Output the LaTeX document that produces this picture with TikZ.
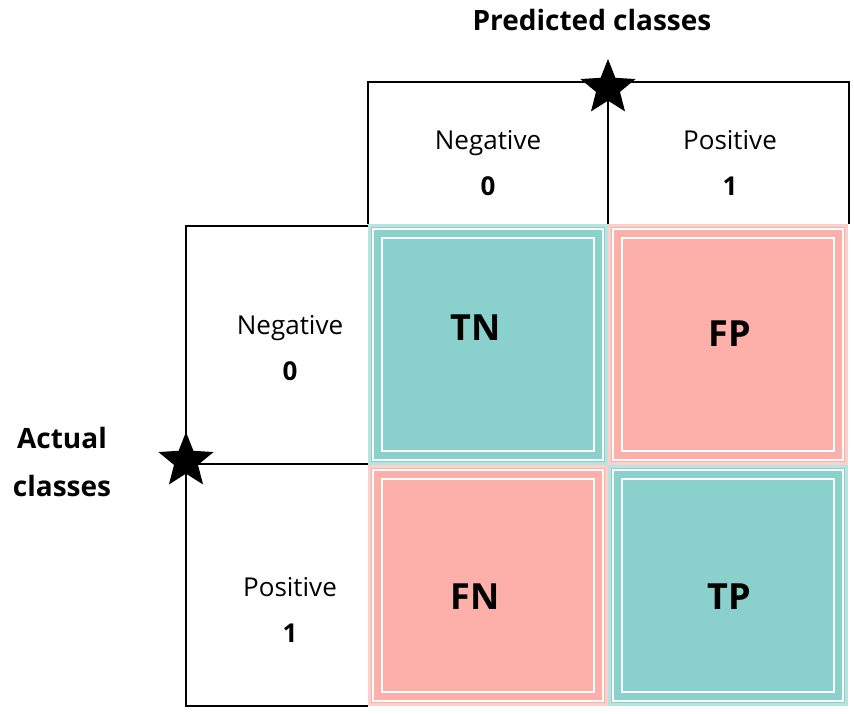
\documentclass[tikz,border=0pt]{standalone}
\usepackage{fontspec}
\setmainfont{Open Sans}
\usetikzlibrary{shapes.geometric}
\definecolor{teal1}{HTML}{8AD1CD}
\definecolor{teal0}{HTML}{B8E3E0}
\definecolor{pink1}{HTML}{FDB0AA}
\definecolor{pink0}{HTML}{FED0CC}
\begin{document}
\begin{tikzpicture}[x=1pt,y=-1pt,
  frame/.style={line width=2.2pt,black},
  lbl/.style={font=\fontsize{26}{46}\selectfont,align=center},
  big/.style={font=\bfseries\fontsize{36}{40}\selectfont},
  ttl/.style={font=\bfseries\fontsize{28}{48}\selectfont,align=center},
  starsh/.style={star,star points=5,star point ratio=2.3,fill=black,minimum size=58pt,inner sep=0pt}]
\useasboundingbox (0,0) rectangle (854,713);
\newcommand\cellbox[4]{%
  \fill[#3] (#1,#2) rectangle ++(240,241);
  \draw[#4,line width=3pt] (#1+1.5,#2+1.5) rectangle ++(237,238);
  \draw[white,line width=2.5pt] (#1+5,#2+5) rectangle ++(230,231);
  \draw[white,line width=2.5pt] (#1+14,#2+14) rectangle ++(212,213);}
\cellbox{368}{224}{teal1}{teal0}
\cellbox{608}{224}{pink1}{pink0}
\cellbox{368}{465}{pink1}{pink0}
\cellbox{608}{465}{teal1}{teal0}
% frames
\coordinate (p1) at (368,224); \coordinate (p2) at (368,82);
\coordinate (p3) at (849,82); \coordinate (p4) at (849,224);
\coordinate (pm) at (608,82); \coordinate (pb) at (608,224);
\draw[frame] (p1) -- (p2) -- (p3) -- (p4);
\draw[frame] (pm) -- (pb);
\coordinate (a1) at (368,226); \coordinate (a2) at (186,226);
\coordinate (a3) at (186,706); \coordinate (a4) at (368,706);
\coordinate (am) at (186,464); \coordinate (ar) at (368,464);
\draw[frame] (a1) -- (a2) -- (a3) -- (a4);
\draw[frame] (am) -- (ar);
\node[starsh] (s1) at (608,88) {};
\node[starsh] (s2) at (186,461) {};
% texts
\node[ttl] (tp) at (592,20) {Predicted classes};
\node[ttl] (ta) at (62,462) {Actual\\classes};
\node[lbl] (h1) at (488,163) {Negative\\\textbf{0}};
\node[lbl] (h2) at (730,163) {Positive\\\textbf{1}};
\node[lbl] (r1) at (290,348) {Negative\\\textbf{0}};
\node[lbl] (r2) at (290,610) {Positive\\\textbf{1}};
\node[big] (tn) at (476,328) {TN};
\node[big] (fp) at (730,334) {FP};
\node[big] (fn) at (475,597) {FN};
\node[big] (tpc) at (729,597) {TP};
\end{tikzpicture}
\end{document}
